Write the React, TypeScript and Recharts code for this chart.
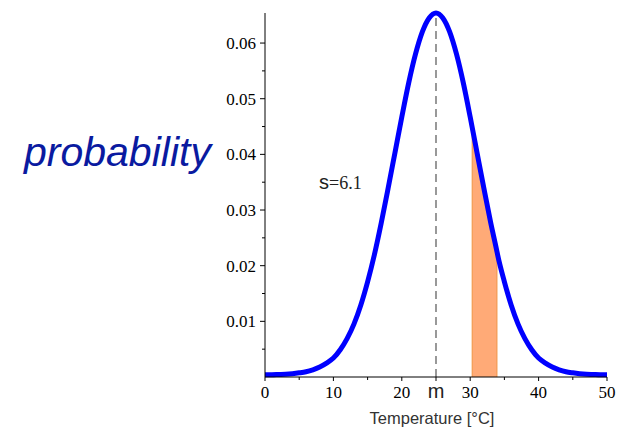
import React from "react";
import { ComposedChart, Line, Area, XAxis, YAxis, ReferenceLine } from "recharts";

// Temperature values (°C) and probability density
const temperatures = [
  0, 1, 2, 3, 4, 5, 6, 7, 8, 9, 10, 11, 12, 13, 14, 15, 16, 17, 18, 19, 20, 21, 22, 23, 24, 25,
  26, 27, 28, 29, 30, 30.3, 31, 32, 33, 33.9, 34, 35, 36, 37, 38, 39, 40, 41, 42, 43, 44, 45, 46, 47, 48, 49, 50,
];
const densities = [
  0.0004, 0.0004, 0.00045, 0.0005, 0.0006, 0.00075, 0.00095, 0.0013, 0.0018, 0.0025, 0.0034, 0.0049, 0.0069,
  0.0095, 0.0129, 0.0171, 0.022, 0.0277, 0.0339, 0.0403, 0.0467, 0.0528, 0.058, 0.062, 0.0645, 0.0654,
  0.0645, 0.062, 0.058, 0.0528, 0.0467, 0.0448, 0.0403, 0.0339, 0.0277, 0.0226, 0.022, 0.0171, 0.0129,
  0.0095, 0.0069, 0.0049, 0.0034, 0.0025, 0.0018, 0.0013, 0.00095, 0.00075, 0.0006, 0.0005, 0.00045, 0.0004, 0.0004,
];
// shaded interval
const shadeTemps = [30.3, 31, 32, 33, 33.9];
const shadeValues = [0.0448, 0.0403, 0.0339, 0.0277, 0.0226];

const meanTemp = 25;
const meanDensity = 0.0654;

const xTicks = [0, 5, 10, 15, 20, 25, 30, 35, 40, 45, 50];
const xTickLabels: Record<number, string> = { 0: "0", 10: "10", 20: "20", 25: "m", 30: "30", 40: "40", 50: "50" };
const yTicks = [0.005, 0.01, 0.015, 0.02, 0.025, 0.03, 0.035, 0.04, 0.045, 0.05, 0.055, 0.06];
const yTickLabels: Record<string, string> = {
  "0.01": "0.01",
  "0.02": "0.02",
  "0.03": "0.03",
  "0.04": "0.04",
  "0.05": "0.05",
  "0.06": "0.06",
};

const tableData = temperatures.map((t, i) => {
  const si = shadeTemps.indexOf(t);
  return { x: t, y: densities[i], shade: si >= 0 ? shadeValues[si] : null };
});

const SERIF = "'Liberation Serif', 'DejaVu Serif', serif";
const SANS = "'Liberation Sans', Arial, sans-serif";

const XTick = (props: any) => {
  const { x, y, payload } = props;
  const label = xTickLabels[payload.value];
  const isM = label === "m";
  const major = label !== undefined;
  return (
    <g>
      <line x1={x} x2={x} y1={y} y2={y + (major ? 4 : 3)} stroke="#000" strokeWidth={1} />
      {label !== undefined && (
        <text
          x={x}
          y={y + 21}
          textAnchor="middle"
          fontFamily={isM ? SANS : SERIF}
          fontSize={isM ? 20 : 17}
          fill={isM ? "#222" : "#000"}
        >
          {label}
        </text>
      )}
    </g>
  );
};

const YTick = (props: any) => {
  const { x, y, payload } = props;
  const key = String(Math.round(payload.value * 1000) / 1000);
  const label = yTickLabels[key];
  const major = label !== undefined;
  return (
    <g>
      <line x1={x - (major ? 5 : 3)} x2={x} y1={y} y2={y} stroke="#000" strokeWidth={1} />
      {major && (
        <text x={x - 9} y={y + 6} textAnchor="end" fontFamily={SERIF} fontSize={17} fill="#000">
          {label}
        </text>
      )}
    </g>
  );
};

export default function App() {
  const W = 618;
  const H = 430;
  return (
    <div style={{ position: "absolute", left: 0, top: 0, width: W, height: H, background: "#fff" }}>
      <ComposedChart width={W} height={H} data={tableData} margin={{ top: 13, right: 11, bottom: 0, left: 0 }}>
        <XAxis
          dataKey="x"
          type="number"
          domain={[0, 50]}
          ticks={xTicks}
          interval={0}
          tick={<XTick />}
          tickLine={false}
          tickSize={0}
          tickMargin={0}
          height={53}
          axisLine={{ stroke: "#000", strokeWidth: 1 }}
        />
        <YAxis
          type="number"
          domain={[0, meanDensity]}
          ticks={yTicks}
          interval={0}
          tick={<YTick />}
          tickLine={false}
          tickSize={0}
          tickMargin={0}
          width={265}
          axisLine={{ stroke: "#000", strokeWidth: 1 }}
        />
        <Area
          dataKey="shade"
          type="monotone"
          fill="#FFAA77"
          fillOpacity={1}
          stroke="none"
          isAnimationActive={false}
          dot={false}
          activeDot={false}
        />
        <ReferenceLine
          segment={[
            { x: shadeTemps[0], y: 0 },
            { x: shadeTemps[0], y: shadeValues[0] },
          ]}
          stroke="#F39A50"
          strokeWidth={1.2}
        />
        <ReferenceLine
          segment={[
            { x: shadeTemps[shadeTemps.length - 1], y: 0 },
            { x: shadeTemps[shadeTemps.length - 1], y: shadeValues[shadeValues.length - 1] },
          ]}
          stroke="#F39A50"
          strokeWidth={1.2}
        />
        <ReferenceLine
          segment={[
            { x: meanTemp, y: 0 },
            { x: meanTemp, y: meanDensity },
          ]}
          stroke="#555"
          strokeWidth={1.2}
          strokeDasharray="8 5"
        />
        <Line
          dataKey="y"
          type="monotone"
          stroke="#0000FF"
          strokeWidth={5}
          dot={false}
          activeDot={false}
          isAnimationActive={false}
        />
      </ComposedChart>
      <svg
        width={W}
        height={H}
        style={{ position: "absolute", left: 0, top: 0, pointerEvents: "none" }}
      >
        <text x={24} y={166} fontFamily={SANS} fontStyle="italic" fontSize={41} fill="#0A1AA0">
          probability
        </text>
        <text x={319} y={189} fontSize={18} fill="#222">
          <tspan fontFamily={SANS} fontSize={20}>s</tspan>
          <tspan fontFamily={SERIF}>=6.1</tspan>
        </text>
        <text x={432} y={424} textAnchor="middle" fontFamily={SANS} fontSize={16.5} fill="#333">
          Temperature [°C]
        </text>
      </svg>
    </div>
  );
}
